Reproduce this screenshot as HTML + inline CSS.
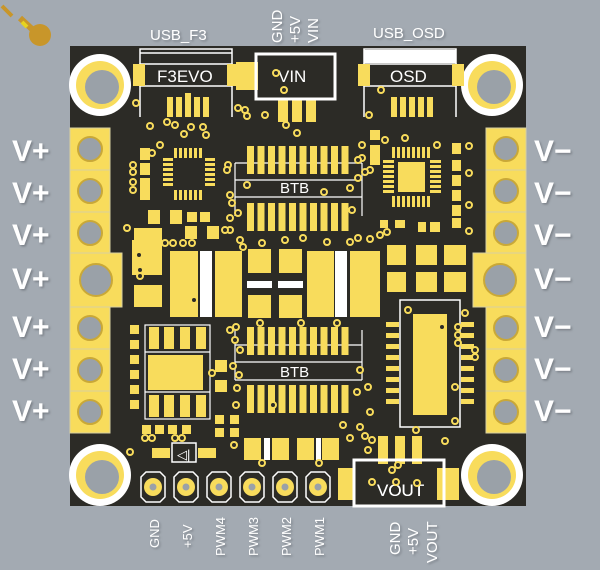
<!DOCTYPE html>
<html><head><meta charset="utf-8"><style>
html,body{margin:0;padding:0;background:#a3aab2;}
svg{display:block}
text{font-family:"Liberation Sans",sans-serif;}
</style></head><body>
<svg width="600" height="570" viewBox="0 0 600 570" xmlns="http://www.w3.org/2000/svg">
<defs>
<filter id="sh" x="-20%" y="-20%" width="140%" height="140%"><feDropShadow dx="1.5" dy="1.5" stdDeviation="1" flood-color="#6f767d" flood-opacity="0.8"/></filter>
</defs>
<rect width="600" height="570" fill="#a3aab2"/>
<!-- decoration top-left -->
<path d="M2 6 L12 16" stroke="#c8962a" stroke-width="4"/>
<circle cx="40" cy="35" r="11" fill="#c8962a"/><path d="M20 18 L33 30" stroke="#c8962a" stroke-width="6"/>
<path d="M22 22 L27 27" stroke="#e6d320" stroke-width="4"/>

<!-- board -->
<rect x="70" y="46" width="456" height="460" fill="#2c2b26"/>

<!-- left terminals -->
<g fill="#f8dc5c" stroke="#d8d0a0" stroke-width="1">
<rect x="70" y="128" width="40" height="42"/><rect x="70" y="170" width="40" height="42"/><rect x="70" y="212" width="40" height="41"/>
<rect x="70" y="253" width="52" height="54"/>
<rect x="70" y="307" width="40" height="42"/><rect x="70" y="349" width="40" height="42"/><rect x="70" y="391" width="40" height="42"/>
<rect x="486" y="128" width="40" height="42"/><rect x="486" y="170" width="40" height="42"/><rect x="486" y="212" width="40" height="41"/>
<rect x="473" y="253" width="53" height="54"/>
<rect x="486" y="307" width="40" height="42"/><rect x="486" y="349" width="40" height="42"/><rect x="486" y="391" width="40" height="42"/>
</g>
<g fill="#9aa1a8" stroke="#c9a838" stroke-width="2">
<circle cx="90" cy="149" r="12"/><circle cx="90" cy="191" r="12"/><circle cx="90" cy="233" r="12"/>
<circle cx="96" cy="280" r="16"/>
<circle cx="90" cy="328" r="12"/><circle cx="90" cy="370" r="12"/><circle cx="90" cy="412" r="12"/>
<circle cx="506" cy="149" r="12"/><circle cx="506" cy="191" r="12"/><circle cx="506" cy="233" r="12"/>
<circle cx="500" cy="280" r="16"/>
<circle cx="506" cy="328" r="12"/><circle cx="506" cy="370" r="12"/><circle cx="506" cy="412" r="12"/>
</g>
<g fill="#ffffff" font-size="30" font-weight="bold" filter="url(#sh)">
<text x="12" y="161">V+</text><text x="12" y="203">V+</text><text x="12" y="245">V+</text><text x="12" y="289">V+</text><text x="12" y="337">V+</text><text x="12" y="379">V+</text><text x="12" y="421">V+</text>
<text x="534" y="161">V−</text><text x="534" y="203">V−</text><text x="534" y="245">V−</text><text x="534" y="289">V−</text><text x="534" y="337">V−</text><text x="534" y="379">V−</text><text x="534" y="421">V−</text>
</g>

<!-- mount holes -->
<g>
<circle cx="100" cy="85" r="31" fill="#ffffff"/><circle cx="100" cy="85" r="24" fill="#f8dc5c"/><circle cx="102" cy="87" r="17" fill="#9aa1a8"/>
<circle cx="492" cy="85" r="31" fill="#ffffff"/><circle cx="492" cy="85" r="24" fill="#f8dc5c"/><circle cx="494" cy="87" r="17" fill="#9aa1a8"/>
<circle cx="100" cy="475" r="31" fill="#ffffff"/><circle cx="100" cy="475" r="24" fill="#f8dc5c"/><circle cx="102" cy="477" r="17" fill="#9aa1a8"/>
<circle cx="492" cy="475" r="31" fill="#ffffff"/><circle cx="492" cy="475" r="24" fill="#f8dc5c"/><circle cx="494" cy="477" r="17" fill="#9aa1a8"/>
</g>

<!-- top labels -->
<g fill="#ffffff" font-size="15" filter="url(#sh)">
<text x="150" y="40">USB_F3</text><text x="373" y="38">USB_OSD</text>
<text transform="translate(282,43) rotate(-90)">GND</text>
<text transform="translate(300,43) rotate(-90)">+5V</text>
<text transform="translate(318,43) rotate(-90)">VIN</text>
</g>

<!-- USB F3 -->
<g fill="none" stroke="#fff" stroke-width="1.5">
<path d="M140 117 V49 H232 V117"/><path d="M140 53 H232"/><rect x="140" y="64" width="92" height="22"/>
<path d="M364 117 V49 H456 V117"/><rect x="364" y="64" width="92" height="22"/>
</g>
<rect x="364" y="50" width="92" height="13" fill="#fff"/>
<g fill="#f8dc5c"><rect x="133" y="64" width="12" height="22"/><rect x="227" y="64" width="12" height="22"/>
<rect x="358" y="64" width="12" height="22"/><rect x="452" y="64" width="12" height="22"/>
<rect x="236" y="62" width="22" height="28"/>
<rect x="167" y="97" width="6" height="20"/><rect x="176" y="97" width="6" height="20"/><rect x="185" y="93" width="6" height="24"/><rect x="194" y="97" width="6" height="20"/><rect x="203" y="97" width="6" height="20"/>
<rect x="391" y="97" width="6" height="20"/><rect x="400" y="97" width="6" height="20"/><rect x="409" y="97" width="6" height="20"/><rect x="418" y="97" width="6" height="20"/><rect x="427" y="97" width="6" height="20"/>
<rect x="278" y="100" width="10" height="22"/><rect x="292" y="100" width="10" height="22"/><rect x="306" y="100" width="10" height="22"/>
</g>
<g fill="#fff" font-size="17"><text x="157" y="82">F3EVO</text><text x="390" y="82">OSD</text><text x="278" y="82">VIN</text><text x="377" y="496">VOUT</text></g>
<rect x="256" y="54" width="79" height="45" fill="none" stroke="#fff" stroke-width="3"/>

<!-- left QFN -->
<g fill="#f8dc5c">
<rect x="174" y="148" width="3" height="10"/><rect x="179" y="148" width="3" height="10"/><rect x="184" y="148" width="3" height="10"/><rect x="189" y="148" width="3" height="10"/><rect x="194" y="148" width="3" height="10"/><rect x="199" y="148" width="3" height="10"/>
<rect x="174" y="190" width="3" height="10"/><rect x="179" y="190" width="3" height="10"/><rect x="184" y="190" width="3" height="10"/><rect x="189" y="190" width="3" height="10"/><rect x="194" y="190" width="3" height="10"/><rect x="199" y="190" width="3" height="10"/>
<rect x="163" y="158" width="10" height="3"/><rect x="163" y="163" width="10" height="3"/><rect x="163" y="168" width="10" height="3"/><rect x="163" y="173" width="10" height="3"/><rect x="163" y="178" width="10" height="3"/><rect x="163" y="183" width="10" height="3"/>
<rect x="205" y="158" width="10" height="3"/><rect x="205" y="163" width="10" height="3"/><rect x="205" y="168" width="10" height="3"/><rect x="205" y="173" width="10" height="3"/><rect x="205" y="178" width="10" height="3"/><rect x="205" y="183" width="10" height="3"/>
<rect x="140" y="148" width="10" height="12"/><rect x="140" y="163" width="10" height="12"/><rect x="140" y="178" width="10" height="12"/><rect x="140" y="190" width="10" height="10"/>
<rect x="148" y="210" width="12" height="14"/><rect x="170" y="210" width="12" height="14"/><rect x="187" y="212" width="10" height="10"/><rect x="200" y="212" width="10" height="10"/>
<rect x="185" y="226" width="12" height="13"/><rect x="207" y="226" width="12" height="13"/>
<rect x="134" y="228" width="28" height="22"/><rect x="134" y="285" width="28" height="22"/>
</g>
<!-- right QFN -->
<rect x="398" y="162" width="27" height="30" fill="#f8dc5c"/>
<g fill="#f8dc5c">
<rect x="392" y="147" width="3" height="11"/><rect x="397" y="147" width="3" height="11"/><rect x="402" y="147" width="3" height="11"/><rect x="407" y="147" width="3" height="11"/><rect x="412" y="147" width="3" height="11"/><rect x="417" y="147" width="3" height="11"/><rect x="422" y="147" width="3" height="11"/><rect x="427" y="147" width="3" height="11"/>
<rect x="392" y="196" width="3" height="11"/><rect x="397" y="196" width="3" height="11"/><rect x="402" y="196" width="3" height="11"/><rect x="407" y="196" width="3" height="11"/><rect x="412" y="196" width="3" height="11"/><rect x="417" y="196" width="3" height="11"/><rect x="422" y="196" width="3" height="11"/><rect x="427" y="196" width="3" height="11"/>
<rect x="383" y="160" width="11" height="3"/><rect x="383" y="165" width="11" height="3"/><rect x="383" y="170" width="11" height="3"/><rect x="383" y="175" width="11" height="3"/><rect x="383" y="180" width="11" height="3"/><rect x="383" y="185" width="11" height="3"/><rect x="383" y="190" width="11" height="3"/>
<rect x="430" y="160" width="11" height="3"/><rect x="430" y="165" width="11" height="3"/><rect x="430" y="170" width="11" height="3"/><rect x="430" y="175" width="11" height="3"/><rect x="430" y="180" width="11" height="3"/><rect x="430" y="185" width="11" height="3"/><rect x="430" y="190" width="11" height="3"/>
<rect x="452" y="143" width="9" height="11"/><rect x="452" y="160" width="9" height="11"/><rect x="452" y="175" width="9" height="11"/><rect x="452" y="190" width="9" height="11"/><rect x="452" y="205" width="9" height="11"/><rect x="452" y="218" width="9" height="10"/>
<rect x="370" y="130" width="10" height="10"/><rect x="370" y="145" width="10" height="20"/>
<rect x="380" y="220" width="8" height="8"/><rect x="395" y="220" width="10" height="8"/><rect x="418" y="222" width="8" height="10"/><rect x="430" y="222" width="10" height="10"/>
<rect x="387" y="245" width="19" height="20"/><rect x="416" y="245" width="21" height="20"/><rect x="444" y="245" width="22" height="20"/>
<rect x="387" y="272" width="19" height="20"/><rect x="416" y="272" width="21" height="20"/><rect x="444" y="272" width="22" height="20"/>
</g>

<!-- BTB top -->
<g fill="none" stroke="#fff" stroke-width="1.2">
<path d="M235 163 H362 M235 180 H362 M235 197 H362 M235 163 V216 M362 163 V216"/>
<path d="M235 345 H362 M235 362 H362 M235 380 H362 M235 330 V380 M362 330 V380"/>
</g>
<g fill="#f8dc5c" id="btbrow">
<rect x="247" y="146" width="7" height="28"/><rect x="257.5" y="146" width="7" height="28"/><rect x="268" y="146" width="7" height="28"/><rect x="278.5" y="146" width="7" height="28"/><rect x="289" y="146" width="7" height="28"/><rect x="299.5" y="146" width="7" height="28"/><rect x="310" y="146" width="7" height="28"/><rect x="320.5" y="146" width="7" height="28"/><rect x="331" y="146" width="7" height="28"/><rect x="341.5" y="146" width="7" height="28"/>
</g>
<use href="#btbrow" y="57"/><use href="#btbrow" y="181"/><use href="#btbrow" y="239"/>
<g fill="#fff" font-size="15"><text x="280" y="193">BTB</text><text x="280" y="377">BTB</text></g>

<!-- big middle pads -->
<g fill="#f8dc5c">
<rect x="170" y="251" width="28" height="66"/><rect x="215" y="251" width="27" height="66"/>
<rect x="248" y="249" width="23" height="24"/><rect x="279" y="249" width="23" height="24"/>
<rect x="248" y="295" width="23" height="23"/><rect x="279" y="295" width="23" height="23"/>
<rect x="307" y="251" width="27" height="66"/><rect x="350" y="251" width="30" height="66"/>
<rect x="132" y="240" width="30" height="35"/>
</g>
<g fill="#fff"><rect x="200" y="251" width="12" height="66"/><rect x="335" y="251" width="12" height="66"/>
<rect x="247" y="281" width="25" height="7"/><rect x="278" y="281" width="25" height="7"/></g>

<!-- left lower chip -->
<rect x="145" y="325" width="65" height="94" fill="none" stroke="#fff" stroke-width="1.2"/>
<path d="M145 352 H210 M145 392 H210" stroke="#fff" stroke-width="1.2"/>
<g fill="#f8dc5c">
<rect x="148" y="355" width="55" height="35"/>
<rect x="149" y="327" width="10" height="22"/><rect x="164" y="327" width="10" height="22"/><rect x="180" y="327" width="10" height="22"/><rect x="196" y="327" width="10" height="22"/>
<rect x="149" y="395" width="10" height="22"/><rect x="164" y="395" width="10" height="22"/><rect x="180" y="395" width="10" height="22"/><rect x="196" y="395" width="10" height="22"/>
<rect x="130" y="325" width="9" height="9"/><rect x="130" y="340" width="9" height="9"/><rect x="130" y="355" width="9" height="9"/><rect x="130" y="370" width="9" height="9"/><rect x="130" y="385" width="9" height="9"/><rect x="130" y="400" width="9" height="9"/>
<rect x="215" y="360" width="12" height="12"/><rect x="215" y="380" width="12" height="12"/>
<rect x="142" y="425" width="9" height="9"/><rect x="155" y="425" width="9" height="9"/><rect x="168" y="425" width="9" height="9"/><rect x="182" y="425" width="9" height="9"/>
<rect x="215" y="415" width="9" height="9"/><rect x="230" y="415" width="9" height="9"/><rect x="215" y="428" width="9" height="9"/><rect x="230" y="428" width="9" height="9"/>
<rect x="152" y="448" width="18" height="10"/><rect x="198" y="448" width="18" height="10"/>
<rect x="244" y="438" width="17" height="22"/><rect x="272" y="438" width="17" height="22"/><rect x="297" y="438" width="17" height="22"/><rect x="322" y="438" width="17" height="22"/>
</g>
<rect x="172" y="443" width="24" height="19" fill="none" stroke="#fff" stroke-width="1.5"/>
<text x="177" y="459" fill="#fff" font-size="13">◁|</text>
<rect x="264" y="438" width="6" height="22" fill="#fff"/><rect x="316" y="438" width="5" height="22" fill="#fff"/>

<!-- right SOIC -->
<rect x="400" y="300" width="60" height="127" fill="none" stroke="#fff" stroke-width="1.5"/>
<rect x="413" y="314" width="34" height="101" fill="#f8dc5c"/>
<g fill="#f8dc5c">
<rect x="386" y="322" width="13" height="5"/><rect x="386" y="333" width="13" height="5"/><rect x="386" y="344" width="13" height="5"/><rect x="386" y="355" width="13" height="5"/><rect x="386" y="366" width="13" height="5"/><rect x="386" y="377" width="13" height="5"/><rect x="386" y="388" width="13" height="5"/><rect x="386" y="399" width="13" height="5"/>
<rect x="461" y="322" width="13" height="5"/><rect x="461" y="333" width="13" height="5"/><rect x="461" y="344" width="13" height="5"/><rect x="461" y="355" width="13" height="5"/><rect x="461" y="366" width="13" height="5"/><rect x="461" y="377" width="13" height="5"/><rect x="461" y="388" width="13" height="5"/><rect x="461" y="399" width="13" height="5"/>
<rect x="378" y="436" width="10" height="28"/><rect x="395" y="436" width="10" height="28"/><rect x="412" y="436" width="10" height="28"/>
<rect x="338" y="468" width="16" height="32"/><rect x="437" y="468" width="22" height="32"/>
</g>
<rect x="354" y="460" width="90" height="46" fill="none" stroke="#fff" stroke-width="3"/>
<g fill="#fff" font-size="17"><text x="377" y="496">VOUT</text></g>

<!-- header pins -->
<g fill="#2c2b26" stroke="#fff" stroke-width="1.5">
<polygon points="141,477 146,472 160,472 165,477 165,497 160,502 146,502 141,497"/>
<polygon points="174,477 179,472 193,472 198,477 198,497 193,502 179,502 174,497"/>
<polygon points="207,477 212,472 226,472 231,477 231,497 226,502 212,502 207,497"/>
<polygon points="240,477 245,472 259,472 264,477 264,497 259,502 245,502 240,497"/>
<polygon points="273,477 278,472 292,472 297,477 297,497 292,502 278,502 273,497"/>
<polygon points="306,477 311,472 325,472 330,477 330,497 325,502 311,502 306,497"/>
</g>
<g fill="#f8dc5c"><circle cx="153" cy="487" r="9"/><circle cx="186" cy="487" r="9"/><circle cx="219" cy="487" r="9"/><circle cx="252" cy="487" r="9"/><circle cx="285" cy="487" r="9"/><circle cx="318" cy="487" r="9"/></g>
<g fill="#9aa1a8"><circle cx="153" cy="487" r="3.5"/><circle cx="186" cy="487" r="3.5"/><circle cx="219" cy="487" r="3.5"/><circle cx="252" cy="487" r="3.5"/><circle cx="285" cy="487" r="3.5"/><circle cx="318" cy="487" r="3.5"/></g>

<g fill="#ffffff" font-size="13" filter="url(#sh)">
<text transform="translate(159,548) rotate(-90)">GND</text>
<text transform="translate(192,548) rotate(-90)">+5V</text>
<text transform="translate(225,556) rotate(-90)">PWM4</text>
<text transform="translate(258,556) rotate(-90)">PWM3</text>
<text transform="translate(291,556) rotate(-90)">PWM2</text>
<text transform="translate(324,556) rotate(-90)">PWM1</text>
<text font-size="15" transform="translate(400,555) rotate(-90)">GND</text>
<text font-size="15" transform="translate(418,555) rotate(-90)">+5V</text>
<text font-size="15" transform="translate(437,563) rotate(-90)">VOUT</text>
</g>

<!-- vias -->
<g fill="#2c2b26" stroke="#f8dc5c" stroke-width="2">
<circle cx="136" cy="103" r="3"/><circle cx="150" cy="126" r="3"/><circle cx="167" cy="122" r="3"/><circle cx="175" cy="125" r="3"/><circle cx="191" cy="127" r="3"/><circle cx="203" cy="127" r="3"/><circle cx="184" cy="134" r="3"/><circle cx="206" cy="135" r="3"/><circle cx="160" cy="145" r="3"/><circle cx="152" cy="153" r="3"/>
<circle cx="133" cy="165" r="3"/><circle cx="133" cy="172" r="3"/><circle cx="133" cy="182" r="3"/><circle cx="133" cy="190" r="3"/><circle cx="228" cy="165" r="3"/><circle cx="230" cy="195" r="3"/><circle cx="232" cy="203" r="3"/><circle cx="238" cy="213" r="3"/><circle cx="230" cy="218" r="3"/><circle cx="230" cy="230" r="3"/>
<circle cx="127" cy="228" r="3"/><circle cx="165" cy="243" r="3"/><circle cx="173" cy="243" r="3"/><circle cx="183" cy="243" r="3"/><circle cx="192" cy="243" r="3"/><circle cx="225" cy="230" r="3"/><circle cx="139" cy="255" r="3"/><circle cx="140" cy="270" r="3"/><circle cx="140" cy="276" r="3"/>
<circle cx="238" cy="108" r="3"/><circle cx="245" cy="110" r="3"/><circle cx="247" cy="116" r="3"/><circle cx="265" cy="115" r="3"/><circle cx="286" cy="125" r="3"/><circle cx="297" cy="133" r="3"/><circle cx="276" cy="73" r="3"/><circle cx="284" cy="90" r="3"/>
<circle cx="227" cy="170" r="3"/><circle cx="247" cy="185" r="3"/><circle cx="324" cy="192" r="3"/><circle cx="350" cy="188" r="3"/><circle cx="358" cy="178" r="3"/><circle cx="352" cy="210" r="3"/><circle cx="358" cy="238" r="3"/><circle cx="350" cy="242" r="3"/>
<circle cx="240" cy="240" r="3"/><circle cx="243" cy="247" r="3"/><circle cx="262" cy="243" r="3"/><circle cx="285" cy="240" r="3"/><circle cx="303" cy="238" r="3"/><circle cx="327" cy="242" r="3"/><circle cx="337" cy="323" r="3"/><circle cx="301" cy="323" r="3"/><circle cx="260" cy="323" r="3"/>
<circle cx="236" cy="327" r="3"/><circle cx="235" cy="340" r="3"/><circle cx="240" cy="350" r="3"/><circle cx="233" cy="366" r="3"/><circle cx="239" cy="375" r="3"/><circle cx="237" cy="388" r="3"/><circle cx="236" cy="405" r="3"/><circle cx="273" cy="405" r="3"/><circle cx="212" cy="373" r="3"/>
<circle cx="360" cy="370" r="3"/><circle cx="357" cy="392" r="3"/><circle cx="368" cy="387" r="3"/><circle cx="370" cy="412" r="3"/><circle cx="360" cy="427" r="3"/><circle cx="365" cy="436" r="3"/><circle cx="372" cy="440" r="3"/><circle cx="368" cy="450" r="3"/><circle cx="350" cy="438" r="3"/><circle cx="343" cy="425" r="3"/>
<circle cx="392" cy="470" r="3"/><circle cx="398" cy="465" r="3"/><circle cx="372" cy="482" r="3"/><circle cx="396" cy="482" r="3"/><circle cx="417" cy="483" r="3"/><circle cx="416" cy="430" r="3"/><circle cx="445" cy="441" r="3"/><circle cx="319" cy="463" r="3"/><circle cx="262" cy="463" r="3"/><circle cx="234" cy="445" r="3"/>
<circle cx="442" cy="327" r="3"/><circle cx="458" cy="327" r="3"/><circle cx="458" cy="335" r="3"/><circle cx="458" cy="343" r="3"/><circle cx="475" cy="350" r="3"/><circle cx="475" cy="357" r="3"/><circle cx="455" cy="387" r="3"/><circle cx="455" cy="421" r="3"/><circle cx="465" cy="313" r="3"/><circle cx="408" cy="310" r="3"/>
<circle cx="362" cy="145" r="3"/><circle cx="362" cy="158" r="3"/><circle cx="370" cy="170" r="3"/><circle cx="365" cy="172" r="3"/><circle cx="358" cy="160" r="3"/><circle cx="385" cy="140" r="3"/><circle cx="405" cy="138" r="3"/><circle cx="437" cy="145" r="3"/><circle cx="469" cy="146" r="3"/><circle cx="469" cy="173" r="3"/><circle cx="469" cy="205" r="3"/><circle cx="469" cy="231" r="3"/><circle cx="370" cy="239" r="3"/><circle cx="380" cy="235" r="3"/><circle cx="387" cy="232" r="3"/><circle cx="381" cy="90" r="3"/><circle cx="369" cy="115" r="3"/>
<circle cx="130" cy="452" r="3"/><circle cx="145" cy="438" r="3"/><circle cx="152" cy="438" r="3"/><circle cx="175" cy="438" r="3"/><circle cx="182" cy="438" r="3"/><circle cx="194" cy="300" r="3"/><circle cx="230" cy="330" r="3"/>
</g>
</svg>
</body></html>
